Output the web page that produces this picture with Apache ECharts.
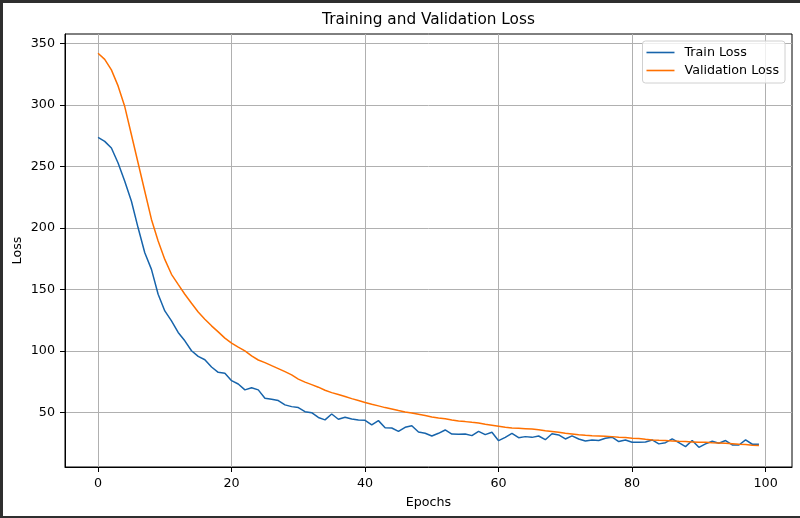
<!DOCTYPE html>
<html>
<head>
<meta charset="utf-8">
<title>Training and Validation Loss</title>
<script src="https://cdn.jsdelivr.net/npm/echarts@6/dist/echarts.min.js"></script>
<style>
  html, body { margin: 0; padding: 0; background: #fff; }
  #chart { width: 800px; height: 518px; }
</style>
</head>
<body>
<div id="chart"></div>
<script>
// values
const trainLoss = [
  273.5, 270.3, 264.9, 252.7, 237.8, 221.6, 200, 179.7, 166.2, 146,
  132.4, 124.3, 114.9, 108.1, 100, 95.4, 92.7, 86.8, 82.5, 81.7,
  75.7, 73, 68.2, 70, 68.2, 61.4, 60.6, 59.5, 56, 54.6,
  53.8, 50.5, 49.7, 45.8, 43.8, 48.6, 44.3, 45.9, 44.6, 43.8,
  43.5, 39.7, 43.2, 37.5, 37.2, 34.5, 37.8, 39.1, 34, 32.9,
  30.7, 32.9, 35.6, 32.3, 32.1, 32.3, 31, 34.5, 31.8, 33.7,
  26.9, 29.6, 32.9, 29.3, 30.2, 29.6, 30.7, 27.7, 32.5, 31.6,
  28.3, 30.8, 28.3, 26.7, 27.5, 27, 28.9, 29.7, 26.2, 27.5,
  25.6, 25.6, 25.9, 27.5, 24.3, 25.3, 28.3, 25.3, 22.1, 27,
  21.5, 24.3, 26.4, 24.8, 27, 23.4, 23.4, 27.5, 24, 24
];
const valLoss = [
  341.9, 337, 328.4, 315.4, 298.6, 275.7, 252.7, 229.7, 206.8, 189.2,
  174.3, 162.2, 154, 146, 138.6, 131.6, 125.7, 120.3, 115.4, 110.3,
  106.2, 103, 99.9, 95.8, 92.5, 90.4, 87.9, 85.5, 83, 80.4,
  77, 74.5, 72.5, 70.4, 67.9, 66, 64.4, 62.8, 61.1, 59.5,
  57.9, 56.5, 55.2, 53.8, 52.7, 51.4, 50.3, 49.5, 48.4, 47.3,
  46.2, 45.4, 44.8, 43.8, 42.9, 42.4, 41.8, 41.3, 40.2, 39.4,
  38.6, 37.8, 37.2, 37, 36.7, 36.4, 35.7, 34.9, 34.3, 33.7,
  32.9, 32.4, 31.8, 31.3, 31, 30.8, 30.5, 30.2, 29.7, 29.4,
  28.9, 28.6, 28, 27.5, 27.2, 27, 26.7, 26.4, 26.2, 25.9,
  25.6, 25.6, 25.3, 25.1, 24.8, 24.5, 24, 23.7, 23.2, 22.9
];
const xTicks = [0, 20, 40, 60, 80, 100];
const yTicks = [50, 100, 150, 200, 250, 300, 350];

const font = 'DejaVu Sans';
const gridColor = '#b0b0b0';

const chart = echarts.init(document.getElementById('chart'));

const toPoints = arr => arr.map((v, i) => [i, v]);

const option = {
  backgroundColor: '#fff',
  animation: false,
  title: {
    text: 'Training and Validation Loss',
    left: 428.5,
    top: 13,
    padding: 0,
    textAlign: 'center',
    textStyle: { fontFamily: font, fontSize: 15.3, fontWeight: 'normal', color: '#000' }
  },
  legend: {
    orient: 'vertical',
    right: 15,
    top: 41,
    padding: [5, 6, 6, 4],
    itemGap: 5,
    itemWidth: 28,
    itemHeight: 14,
    icon: 'path://M0,6.2L28,6.2L28,7.8L0,7.8Z',
    borderColor: '#d0d0d0',
    borderWidth: 1,
    borderRadius: 3,
    backgroundColor: 'rgba(255,255,255,0.8)',
    textStyle: { fontFamily: font, fontSize: 12.7, color: '#000', padding: [0, 0, 0, 5] },
    data: ['Train Loss', 'Validation Loss']
  },
  grid: {
    left: 65,
    right: 8,
    top: 34,
    bottom: 51,
    show: true,
    borderColor: '#000',
    borderWidth: 1
  },
  xAxis: {
    type: 'value',
    min: -4.95,
    max: 103.95,
    name: 'Epochs',
    nameLocation: 'middle',
    nameGap: 29,
    nameTextStyle: { fontFamily: font, fontSize: 12.7, color: '#000' },
    axisLine: { show: true, onZero: false, lineStyle: { color: '#000', width: 1 } },
    axisTick: { show: true, length: 5, customValues: xTicks, lineStyle: { color: '#000' } },
    axisLabel: { customValues: xTicks, margin: 10, fontFamily: font, fontSize: 12.7, color: '#000' },
    splitLine: { show: true, lineStyle: { color: gridColor, width: 1 } }
  },
  yAxis: {
    type: 'value',
    min: 5.5,
    max: 357.6,
    name: 'Loss',
    nameLocation: 'middle',
    nameGap: 41,
    nameMoveOverlap: false,
    nameTextStyle: { fontFamily: font, fontSize: 12.7, color: '#000' },
    axisLine: { show: true, onZero: false, lineStyle: { color: '#000', width: 1 } },
    axisTick: { show: true, length: 5, customValues: yTicks, lineStyle: { color: '#000' } },
    axisLabel: { customValues: yTicks, margin: 10, fontFamily: font, fontSize: 12.7, color: '#000' },
    splitLine: { show: true, lineStyle: { color: gridColor, width: 1 } }
  },
  series: [
    {
      name: 'Train Loss',
      type: 'line',
      symbol: 'none',
      data: toPoints(trainLoss),
      lineStyle: { color: '#1764ab', width: 1.5 },
      itemStyle: { color: '#1764ab' },
      z: 3
    },
    {
      name: 'Validation Loss',
      type: 'line',
      symbol: 'none',
      data: toPoints(valLoss),
      lineStyle: { color: '#ff7000', width: 1.5 },
      itemStyle: { color: '#ff7000' },
      z: 4
    }
  ],
  graphic: [
    // dark edges of the screenshot
    { type: 'rect', left: 0, top: 0, shape: { width: 800, height: 3 }, style: { fill: '#2f2f2f' }, silent: true },
    { type: 'rect', left: 0, top: 0, shape: { width: 3, height: 518 }, style: { fill: '#2f2f2f' }, silent: true },
    { type: 'rect', left: 0, top: 516, shape: { width: 800, height: 2 }, style: { fill: '#2f2f2f' }, silent: true }
  ]
};

chart.setOption(option);
</script>
</body>
</html>
